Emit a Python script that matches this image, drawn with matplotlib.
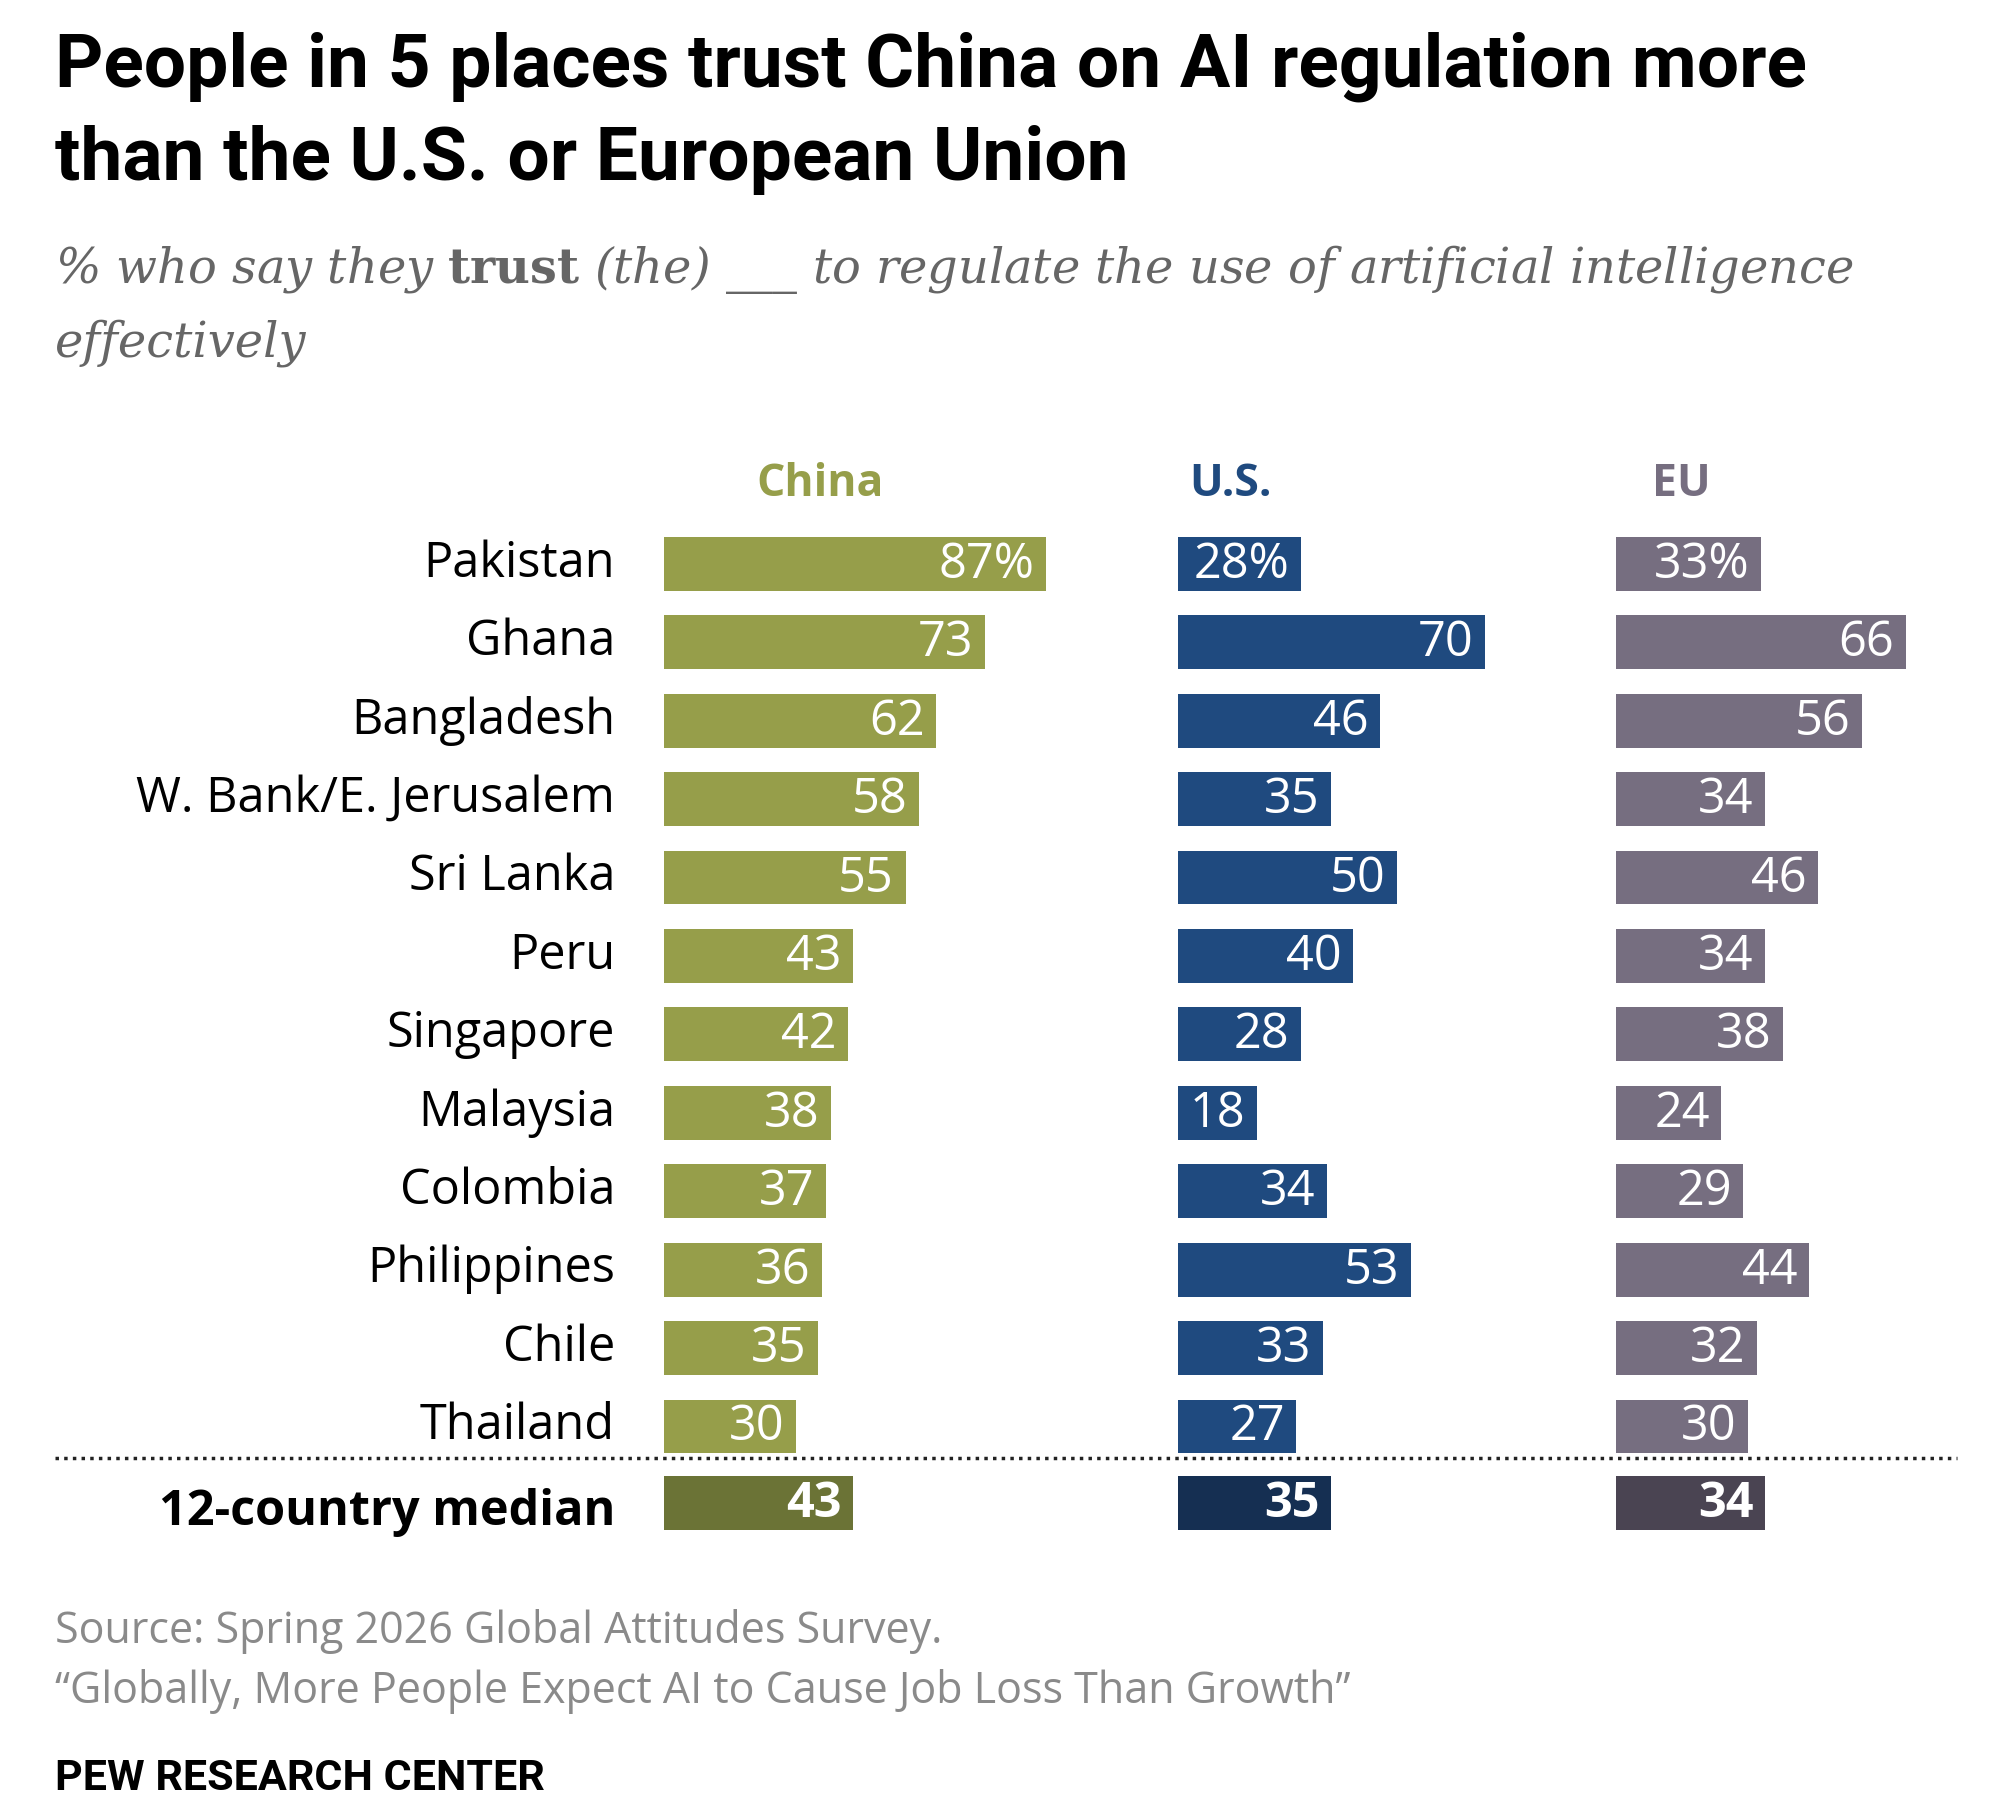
import matplotlib.pyplot as plt

plt.rcParams["mathtext.fontset"] = "dejavuserif"

countries = ["Pakistan", "Ghana", "Bangladesh", "W. Bank/E. Jerusalem", "Sri Lanka", "Peru",
             "Singapore", "Malaysia", "Colombia", "Philippines", "Chile", "Thailand"]
china = [87, 73, 62, 58, 55, 43, 42, 38, 37, 36, 35, 30]
us = [28, 70, 46, 35, 50, 40, 28, 18, 34, 53, 33, 27]
eu = [33, 66, 56, 34, 46, 34, 38, 24, 29, 44, 32, 30]
median = {"China": 43, "U.S.": 35, "EU": 34}

W, H = 1560, 1418
fig = plt.figure(figsize=(19.99, 18.17), dpi=100)
ax = fig.add_axes([0, 0, 1, 1])
ax.set_xlim(0, W)
ax.set_ylim(H, 0)
ax.axis("off")

sans = "Open Sans"
scale = 3.43
rows = [440 + 61.2 * i for i in range(len(countries))]
cols = [("China", china, 518, "#969e4a", "#6b7336", 640),
        ("U.S.", us, 919, "#1f4a7f", "#152f52", 960),
        ("EU", eu, 1261, "#766e80", "#4a4452", 1312)]

ax.text(43, 52, "People in 5 places trust China on AI regulation more", fontsize=54,
        fontweight="bold", family="Roboto", va="center")
ax.text(43, 125, "than the U.S. or European Union", fontsize=54,
        fontweight="bold", family="Roboto", va="center")
ax.text(43, 210, r"% who say they $\mathbf{trust}$ (the) ___ to regulate the use of artificial intelligence",
        fontsize=34.5, style="italic", family="DejaVu Serif", color="#666666", va="center")
ax.text(43, 268, "effectively", fontsize=34.5, style="italic", family="DejaVu Serif",
        color="#666666", va="center")

for name, vals, x0, c, cm, hx in cols:
    ax.text(hx, 378, name, fontsize=32, fontweight="bold",
            family=sans, color=c, ha="center", va="center")
    ax.barh(rows, [v * scale for v in vals], left=x0, height=42, color=c)
    for i, (y, v) in enumerate(zip(rows, vals)):
        lab = f"{v}%" if i == 0 else str(v)
        ax.text(x0 + v * scale - 9, y + 1, lab, fontsize=35, family=sans, color="white",
                ha="right", va="center")
    m = median[name]
    ax.barh(1173, m * scale, left=x0, height=42, color=cm)
    ax.text(x0 + m * scale - 9, 1174, str(m), fontsize=35, family=sans, fontweight="bold",
            color="white", ha="right", va="center")

for y, c in zip(rows, countries):
    ax.text(480, y, c, fontsize=35, family=sans, ha="right", va="center")
ax.text(480, 1180, "12-country median", fontsize=35, family=sans, fontweight="bold",
        ha="right", va="center")
ax.plot([43, 1527], [1138, 1138], ls=(0, (1, 1.5)), color="#222222", lw=2.5)

ax.text(43, 1273, "Source: Spring 2026 Global Attitudes Survey.", fontsize=31, family=sans,
        color="#8a8a8a", va="center")
ax.text(43, 1320, "\u201cGlobally, More People Expect AI to Cause Job Loss Than Growth\u201d",
        fontsize=31, family=sans, color="#8a8a8a", va="center")
ax.text(43, 1388, "PEW RESEARCH CENTER", fontsize=31, family="Roboto", fontweight="bold",
        va="center")

fig.savefig("out.png", dpi=100)
